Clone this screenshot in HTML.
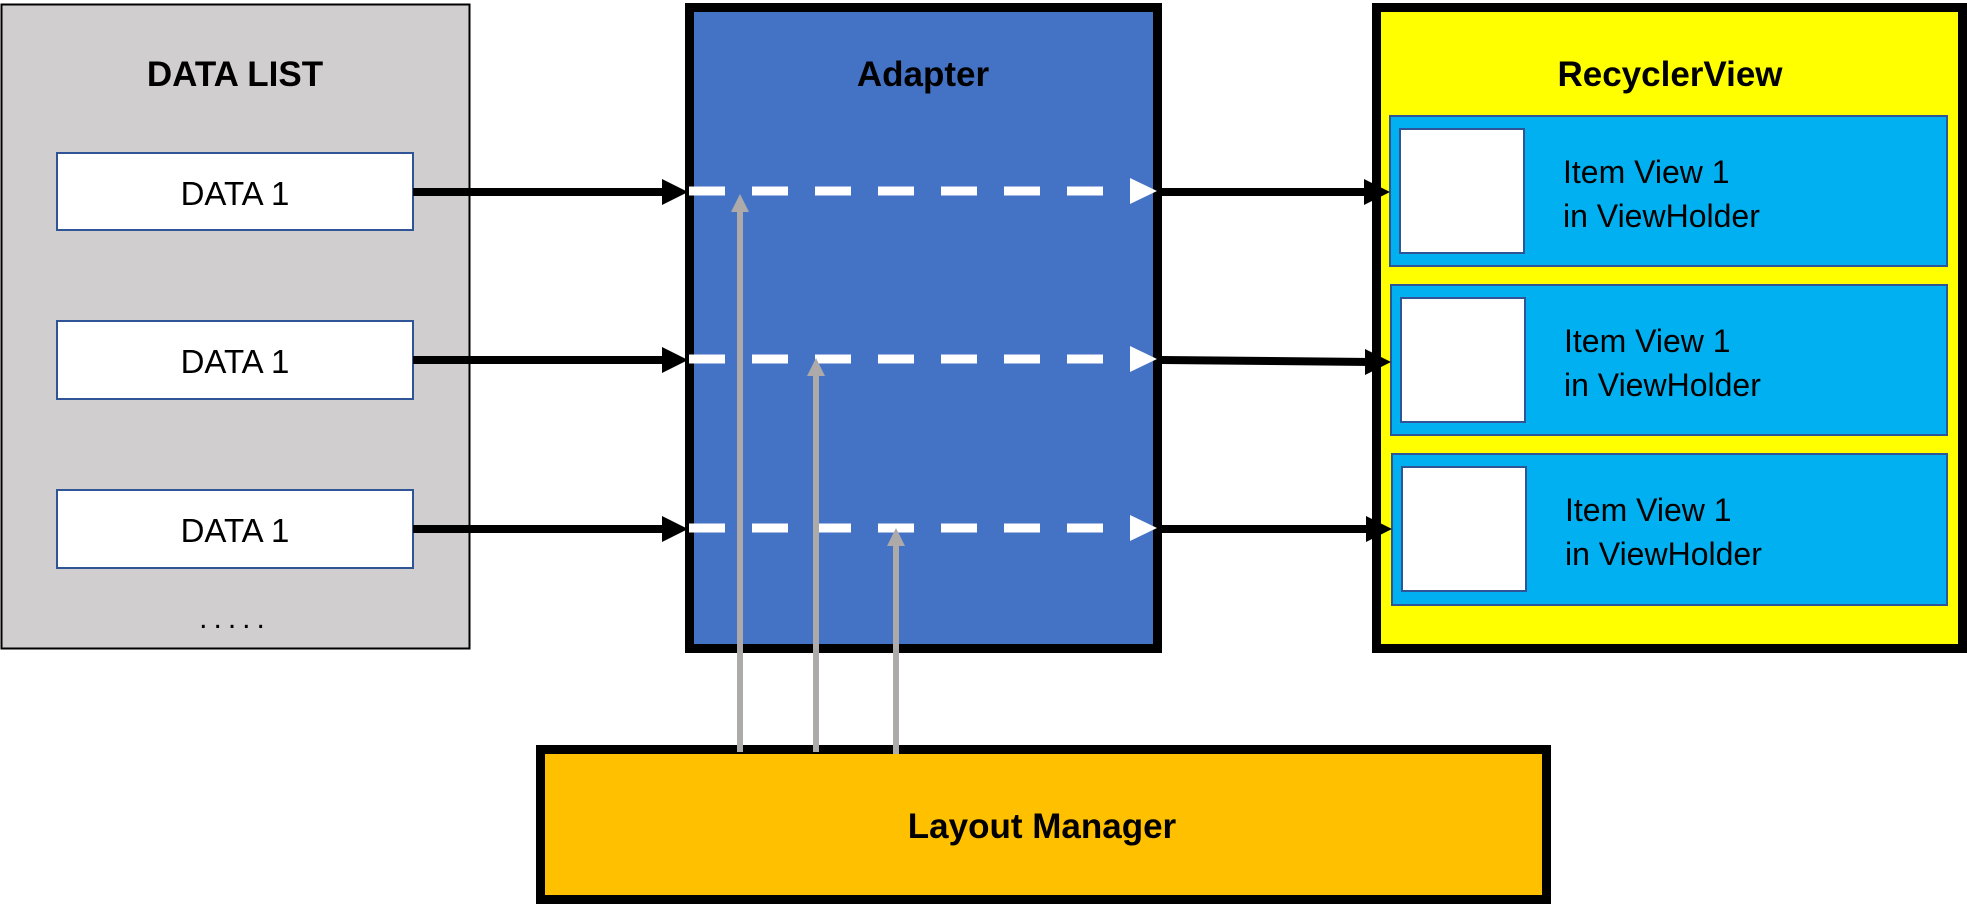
<!DOCTYPE html>
<html><head><meta charset="utf-8"><style>
html,body{margin:0;padding:0;background:#fff;}
svg{display:block;}
text{font-family:"Liberation Sans",sans-serif;fill:#000;}
</style></head><body>
<svg width="1967" height="904" viewBox="0 0 1967 904" xmlns="http://www.w3.org/2000/svg">
<!-- DATA LIST -->
<rect x="1.5" y="4.5" width="468" height="644" fill="#d0cece" stroke="#000" stroke-width="2"/>
<text x="235" y="86" font-size="35" font-weight="bold" text-anchor="middle">DATA LIST</text>
<g fill="#fff" stroke="#2f5597" stroke-width="2">
<rect x="57" y="153" width="356" height="77"/>
<rect x="57" y="321" width="356" height="78"/>
<rect x="57" y="490" width="356" height="78"/>
</g>
<g font-size="33" text-anchor="middle">
<text x="235" y="205">DATA 1</text>
<text x="235" y="373">DATA 1</text>
<text x="235" y="542">DATA 1</text>
</g>
<text x="235" y="628" font-size="30" text-anchor="middle" letter-spacing="6">.....</text>

<!-- Adapter -->
<rect x="689.5" y="7.5" width="468" height="641" fill="#4472c4" stroke="#000" stroke-width="9"/>
<text x="923" y="86" font-size="35" font-weight="bold" text-anchor="middle">Adapter</text>

<!-- RecyclerView -->
<rect x="1376.5" y="7.5" width="586" height="641" fill="#ffff00" stroke="#000" stroke-width="9"/>
<text x="1670" y="86" font-size="35" font-weight="bold" text-anchor="middle">RecyclerView</text>
<g fill="#00b0f0" stroke="#2f5597" stroke-width="2">
<rect x="1390" y="116" width="557" height="150"/>
<rect x="1391" y="285" width="556" height="150"/>
<rect x="1392" y="454" width="555" height="151"/>
</g>
<g fill="#fff" stroke="#2f5597" stroke-width="2">
<rect x="1400" y="129" width="124" height="124"/>
<rect x="1401" y="298" width="124" height="124"/>
<rect x="1402" y="467" width="124" height="124"/>
</g>
<g font-size="32">
<text x="1563" y="183">Item View 1</text><text x="1563" y="227">in ViewHolder</text>
<text x="1564" y="352">Item View 1</text><text x="1564" y="396">in ViewHolder</text>
<text x="1565" y="521">Item View 1</text><text x="1565" y="565">in ViewHolder</text>
</g>

<!-- Layout Manager -->
<rect x="540.5" y="749.5" width="1006" height="150" fill="#ffc000" stroke="#000" stroke-width="9"/>
<text x="1042" y="838" font-size="35" font-weight="bold" text-anchor="middle">Layout Manager</text>

<!-- black arrows left -->
<g stroke="#000" stroke-width="8">
<line x1="413" y1="192" x2="668" y2="192"/>
<line x1="413" y1="360" x2="668" y2="360"/>
<line x1="413" y1="529" x2="668" y2="529"/>
<line x1="1162" y1="192" x2="1372" y2="192"/>
<line x1="1162" y1="360" x2="1372" y2="362"/>
<line x1="1162" y1="529" x2="1372" y2="529"/>
</g>
<g fill="#000">
<polygon points="662,179 688,192 662,205"/>
<polygon points="662,347 688,360 662,373"/>
<polygon points="662,516 688,529 662,542"/>
<polygon points="1364,179 1390,192 1364,205"/>
<polygon points="1365,349 1391,362 1365,375"/>
<polygon points="1366,516 1392,529 1366,542"/>
</g>
<!-- white dashed -->
<g stroke="#fff" stroke-width="9" stroke-dasharray="36 27">
<line x1="689" y1="191" x2="1140" y2="191"/>
<line x1="689" y1="359" x2="1140" y2="359"/>
<line x1="689" y1="528" x2="1140" y2="528"/>
</g>
<g fill="#fff">
<polygon points="1130,178 1157,191 1130,204"/>
<polygon points="1130,346 1157,359 1130,372"/>
<polygon points="1130,515 1157,528 1130,541"/>
</g>
<!-- grey arrows -->
<g stroke="#aeaaaa" stroke-width="6">
<line x1="740" y1="752" x2="740" y2="208"/>
<line x1="816" y1="752" x2="816" y2="376"/>
<line x1="896" y1="754" x2="896" y2="544"/>
</g>
<g fill="#aeaaaa">
<polygon points="731,212 740,194 749,212"/>
<polygon points="807,376 816,358 825,376"/>
<polygon points="887,546 896,528 905,546"/>
</g>
</svg>
</body></html>
